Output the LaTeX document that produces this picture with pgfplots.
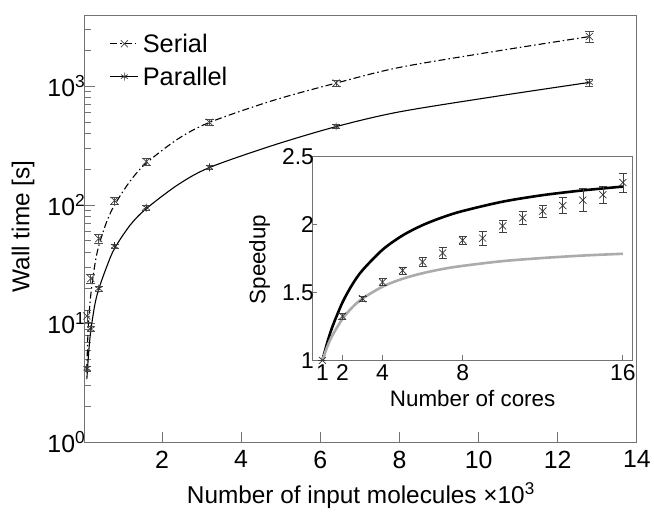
\documentclass[border=0pt]{standalone}
\usepackage{pgfplots}
\pgfplotsset{compat=1.18}
\usepackage{fontspec}
\setmainfont{Liberation Sans}
\begin{document}
\begin{tikzpicture}
\path (-85bp,-65bp) rectangle (569bp,443bp);
\begin{axis}[
  name=main, at={(0,0)}, anchor=south west,
  scale only axis, width=553bp, height=428bp,
  xmin=0.05, xmax=14, ymode=log, ymin=1, ymax=4000,
  xtick={2,4,...,14},
  ytick={1,10,100,1000},
  minor ytick={2,3,4,5,6,7,8,9,20,30,40,50,60,70,80,90,200,300,400,500,600,700,800,900,2000,3000,4000},
  yticklabels={10\textsuperscript{0},10\textsuperscript{1},10\textsuperscript{2},10\textsuperscript{3}},
  tick pos=left, tick align=inside,
  major tick length=10bp, minor tick length=6bp,
  axis line style={black!55, line width=0.8bp},
  every tick/.style={black!55, line width=0.8bp},
  tick label style={font=\fontsize{25}{30}\selectfont},
  label style={font=\fontsize{24.5}{29}\selectfont},
  /pgf/number format/assume math mode=true,
  yticklabel style={xshift=4bp},
  xticklabel style={yshift=-5bp},
  xlabel={Number of input molecules ×10\textsuperscript{3}},
  xlabel style={at={(axis description cs:0.5,0)}, anchor=base, yshift=-61bp},
  ylabel={Wall time [s]},
  ylabel style={at={(axis description cs:-0.112,0.505)}, anchor=center},
  legend style={at={(axis description cs:0.045,0.961)}, anchor=north west, draw=none, fill=none,
    font=\fontsize{25.5}{30}\selectfont, row sep=9bp, inner sep=0pt,
    nodes={inner xsep=4bp}},
  legend cell align=left,
  legend image code/.code={\draw[mark repeat=2,mark phase=2,#1] plot coordinates {(0bp,0bp) (14bp,0bp) (28bp,0bp)};},
]
\addplot[black, line width=1.1bp, dash pattern=on 7bp off 3bp on 1.5bp off 3bp, smooth, forget plot] coordinates {
(0.1,4.0) (0.12,7.0) (0.15,11) (0.2,17.5) (0.3,31) (0.4,45) (0.6,72) (0.8,100) (1.2,160) (1.6,225) (2.4,360) (3.2,497) (4.8,760) (6.4,1066) (8,1445) (10.5,1995) (12.8,2630)};
\addplot[black, line width=1.1bp, smooth, forget plot] coordinates {
(0.1,3.4) (0.15,5.9) (0.2,8.7) (0.3,14.3) (0.4,19.5) (0.6,30) (0.8,43) (1.2,68) (1.6,93) (2.4,148) (3.2,207) (4.8,318) (6.4,458) (8,610) (10.5,830) (12.8,1080)};
\addplot[black!75, only marks, mark=x, mark size=5bp, mark options={line width=0.7bp}, forget plot,
  error bars/.cd, y dir=both, y explicit,
  error bar style={black!70, line width=0.6bp},
  error mark options={rotate=90, mark size=4.5bp, black!70, line width=0.6bp}] coordinates {
(0.1,11.6) +- (0,1.3)
(0.2,24) +- (0,2)
(0.4,52) +- (0,4.5)
(0.8,109) +- (0,7)
(1.6,232) +- (0,15)
(3.2,497) +- (0,30)
(6.4,1066) +- (0,55)
(12.8,2630) +- (0,290)};
\addplot[black!80, only marks, mark=asterisk, mark size=4bp, mark options={line width=0.7bp}, forget plot,
  error bars/.cd, y dir=both, y explicit,
  error bar style={black!70, line width=0.6bp},
  error mark options={rotate=90, mark size=4bp, black!70, line width=0.6bp}] coordinates {
(0.1,4.2) +- (0,0.2)
(0.2,9.0) +- (0,0.4)
(0.4,19.7) +- (0,0.8)
(0.8,45) +- (0,1.8)
(1.6,95) +- (0,4)
(3.2,208) +- (0,8)
(6.4,460) +- (0,18)
(12.8,1079) +- (0,70)};
\addlegendimage{black, line width=1bp, dash pattern=on 7bp off 3bp on 1.5bp off 3bp, mark=x, mark size=5bp, mark options={solid, black!75, line width=0.7bp}}
\addlegendentry{Serial}
\addlegendimage{black, line width=1bp, mark=asterisk, mark size=4bp, mark options={solid, black!80, line width=0.7bp}}
\addlegendentry{Parallel}
\end{axis}
\begin{axis}[
  at={(228bp,82bp)}, anchor=south west,
  scale only axis, width=321bp, height=204bp,
  xmin=0.5, xmax=16.5, ymin=1, ymax=2.5,
  xtick={1,2,4,8,16}, ytick={1,1.5,2,2.5},
  tick pos=left, tick align=inside,
  major tick length=5bp,
  axis background/.style={fill=white},
  axis line style={black!55, line width=0.8bp},
  every tick/.style={black!55, line width=0.8bp},
  tick label style={font=\fontsize{23}{27}\selectfont},
  label style={font=\fontsize{22.5}{27}\selectfont},
  /pgf/number format/assume math mode=true,
  yticklabel style={xshift=5bp},
  xticklabel style={yshift=-1bp},
  xlabel={Number of cores},
  xlabel style={at={(axis description cs:0.5,0)}, anchor=base, yshift=-46bp},
  ylabel={Speedup},
  ylabel style={at={(axis description cs:-0.165,0.495)}, anchor=center},
]
\addplot[black, line width=2.6bp, smooth] coordinates {
(1,1) (1.25,1.136) (1.5,1.249) (2,1.427) (2.5,1.561) (3,1.664) (4,1.815) (5,1.920) (6,1.996) (7,2.054) (8,2.100) (10,2.169) (12,2.217) (14,2.252) (16,2.280)};
\addplot[black!33, line width=2.6bp, smooth] coordinates {
(1,1) (1.25,1.104) (1.5,1.185) (2,1.306) (2.5,1.392) (3,1.455) (4,1.543) (5,1.601) (6,1.642) (7,1.673) (8,1.696) (10,1.731) (12,1.754) (14,1.772) (16,1.785)};
\addplot[black!80, only marks, mark=x, mark size=5bp, mark options={line width=0.7bp},
  error bars/.cd, y dir=both, y explicit,
  error bar style={black!75, line width=0.6bp},
  error mark options={rotate=90, mark size=4bp, black!75, line width=0.6bp}] coordinates {
(1,1.0) +- (0,0)
(2,1.326) +- (0,0.02)
(3,1.454) +- (0,0.02)
(4,1.576) +- (0,0.025)
(5,1.662) +- (0,0.025)
(6,1.725) +- (0,0.033)
(7,1.79) +- (0,0.04)
(8,1.885) +- (0,0.03)
(9,1.90) +- (0,0.05)
(10,1.99) +- (0,0.045)
(11,2.05) +- (0,0.045)
(12,2.10) +- (0,0.045)
(13,2.14) +- (0,0.06)
(14,2.18) +- (0,0.085)
(15,2.22) +- (0,0.06)
(16,2.31) +- (0,0.07)};
\end{axis}
\end{tikzpicture}
\end{document}
